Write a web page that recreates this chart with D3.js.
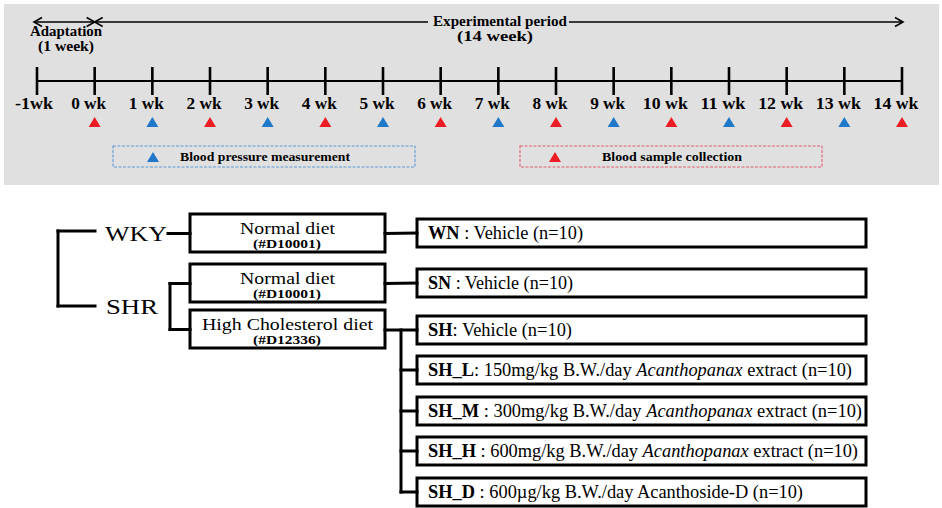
<!DOCTYPE html>
<html>
<head>
<meta charset="utf-8">
<script src="https://cdn.jsdelivr.net/npm/d3@7"></script>
<style>
  html, body { margin: 0; padding: 0; background: #ffffff; }
  svg { display: block; }
  text { font-family: "Liberation Serif", "Times New Roman", serif; fill: #000; }
</style>
</head>
<body>
<svg id="chart" width="942" height="508"></svg>
<script>
// ---------- data ----------
const weeks = [-1, 0, 1, 2, 3, 4, 5, 6, 7, 8, 9, 10, 11, 12, 13, 14];
const weekLabels = ["-1wk", "0 wk", "1 wk", "2 wk", "3 wk", "4 wk", "5 wk", "6 wk", "7 wk",
                    "8 wk", "9 wk", "10 wk", "11 wk", "12 wk", "13 wk", "14 wk"];
// event at each week: "blood" = blood sample collection, "bp" = blood pressure measurement
const weekEvents = ["none", "blood", "bp", "blood", "bp", "blood", "bp", "blood", "bp",
                    "blood", "bp", "blood", "bp", "blood", "bp", "blood"];
const eventNames = ["bp", "blood"];
const eventLabels = ["Blood pressure measurement", "Blood sample collection"];
const periodLabels = [["Adaptation", "(1 week)"], ["Experimental period", "(14 week)"]];
const periodSpans = [[-1, 0], [0, 14]];

const strains = ["WKY", "SHR"];
const diets = ["Normal diet", "Normal diet", "High Cholesterol diet"];
const dietCodes = ["(#D10001)", "(#D10001)", "(#D12336)"];
const dietStrain = ["WKY", "SHR", "SHR"];
const groupCodes = ["WN", "SN", "SH", "SH_L", "SH_M", "SH_H", "SH_D"];
const groupDiet = [0, 1, 2, 2, 2, 2, 2];
const groupText = [
  [[" : Vehicle (n=10)", "n"]],
  [[" : Vehicle (n=10)", "n"]],
  [[": Vehicle (n=10)", "n"]],
  [[": 150mg/kg B.W./day ", "n"], ["Acanthopanax", "i"], [" extract (n=10)", "n"]],
  [[" : 300mg/kg B.W./day ", "n"], ["Acanthopanax", "i"], [" extract (n=10)", "n"]],
  [[" : 600mg/kg B.W./day ", "n"], ["Acanthopanax", "i"], [" extract (n=10)", "n"]],
  [[" : 600\u00b5g/kg B.W./day Acanthoside-D (n=10)", "n"]]
];

// ---------- layout ----------
const svg = d3.select("#chart");
const colors = { blood: "#ec1c24", bp: "#1f78c8" };
const legendStroke = { bp: "#5a9ad6", blood: "#e2606e" };

// top panel
svg.append("rect").attr("x", 4).attr("y", 4).attr("width", 935).attr("height", 181)
  .attr("fill", "#e0e0e0");

const x = d3.scaleLinear().domain([-1, 14]).range([37, 902]);
const axisY = 81;

// main timeline line
svg.append("line").attr("x1", x(-1)).attr("x2", x(14)).attr("y1", axisY).attr("y2", axisY)
  .attr("stroke", "#000").attr("stroke-width", 2.2);

// ticks
svg.selectAll(".tick").data(weeks).join("line")
  .attr("x1", d => x(d)).attr("x2", d => x(d))
  .attr("y1", axisY - 14).attr("y2", axisY + 14)
  .attr("stroke", "#000").attr("stroke-width", 2.6);

// tick labels
svg.selectAll(".wl").data(weeks).join("text")
  .attr("x", d => x(d) - (d < 0 ? 3 : 6)).attr("y", 109)
  .attr("text-anchor", "middle")
  .attr("font-weight", "bold").attr("font-size", 16)
  .attr("textLength", (d, i) => weekLabels[i].length > 4 ? 45 : (d < 0 ? 38 : 35))
  .attr("lengthAdjust", "spacingAndGlyphs")
  .text((d, i) => weekLabels[i]);

// event triangles
const tri = (cx, cy) => `M${cx - 6},${cy + 5}L${cx},${cy - 5}L${cx + 6},${cy + 5}Z`;
svg.selectAll(".ev").data(weeks.filter((d, i) => weekEvents[i] !== "none")).join("path")
  .attr("d", d => tri(x(d), 122))
  .attr("fill", d => colors[weekEvents[weeks.indexOf(d)]]);

// period arrows
const arrowY = 22;
const head = (tx, dir) => `M${tx - dir * 8},${arrowY - 4.5}L${tx},${arrowY}L${tx - dir * 8},${arrowY + 4.5}`;
// adaptation arrow
svg.append("line").attr("x1", x(periodSpans[0][0]) - 3).attr("x2", x(periodSpans[0][1]))
  .attr("y1", arrowY).attr("y2", arrowY).attr("stroke", "#000").attr("stroke-width", 1.6);
svg.append("path").attr("d", head(x(periodSpans[0][0]) - 3, -1)).attr("fill", "none").attr("stroke", "#000").attr("stroke-width", 1.6);
svg.append("path").attr("d", head(x(periodSpans[0][1]), 1)).attr("fill", "none").attr("stroke", "#000").attr("stroke-width", 1.6);
// experimental arrow (with gap for label)
const gapL = 428, gapR = 569;
svg.append("line").attr("x1", x(periodSpans[1][0])).attr("x2", gapL).attr("y1", arrowY).attr("y2", arrowY)
  .attr("stroke", "#000").attr("stroke-width", 1.6);
svg.append("line").attr("x1", gapR).attr("x2", x(periodSpans[1][1]) + 1).attr("y1", arrowY).attr("y2", arrowY)
  .attr("stroke", "#000").attr("stroke-width", 1.6);
svg.append("path").attr("d", head(x(periodSpans[1][0]), -1)).attr("fill", "none").attr("stroke", "#000").attr("stroke-width", 1.6);
svg.append("path").attr("d", head(x(periodSpans[1][1]) + 1, 1)).attr("fill", "none").attr("stroke", "#000").attr("stroke-width", 1.6);

// period labels
const periodTextPos = [
  [{ cx: 66, y: 36, w: 72 }, { cx: 66, y: 51, w: 56 }],
  [{ cx: 500, y: 26, w: 134 }, { cx: 495, y: 41, w: 76 }]
];
periodLabels.forEach((lines, pi) => {
  lines.forEach((t, li) => {
    const p = periodTextPos[pi][li];
    svg.append("text").attr("x", p.cx).attr("y", p.y).attr("text-anchor", "middle")
      .attr("font-weight", "bold").attr("font-size", 14)
      .attr("textLength", p.w).attr("lengthAdjust", "spacingAndGlyphs").text(t);
  });
});

// legend
const legendPos = [{ x: 113, tx: 153, lx: 180, lw: 170 }, { x: 520, tx: 555, lx: 602, lw: 140 }];
eventNames.forEach((ev, i) => {
  const p = legendPos[i];
  svg.append("rect").attr("x", p.x).attr("y", 146).attr("width", 302).attr("height", 21)
    .attr("fill", "none").attr("stroke", legendStroke[ev]).attr("stroke-width", 1.1)
    .attr("stroke-dasharray", "3,1.5");
  svg.append("path").attr("d", tri(p.tx, 157)).attr("fill", colors[ev]);
  svg.append("text").attr("x", p.lx).attr("y", 161).attr("font-weight", "bold").attr("font-size", 13)
    .attr("textLength", p.lw).attr("lengthAdjust", "spacingAndGlyphs").text(eventLabels[i]);
});

// ---------- group diagram ----------
const SW = 3;
const ln = (x1, y1, x2, y2) => svg.append("line").attr("x1", x1).attr("y1", y1).attr("x2", x2).attr("y2", y2)
  .attr("stroke", "#000").attr("stroke-width", SW).attr("stroke-linecap", "square");

// strain labels
const strainPos = [{ x: 105, y: 241, w: 62, cy: 231 }, { x: 106, y: 314, w: 52, cy: 306 }];
strains.forEach((s, i) => {
  const p = strainPos[i];
  svg.append("text").attr("x", p.x).attr("y", p.y).attr("font-size", 21.5)
    .attr("textLength", p.w).attr("lengthAdjust", "spacingAndGlyphs").text(s);
});
// left bracket
ln(58, strainPos[0].cy, 58, strainPos[1].cy);
ln(58, strainPos[0].cy, 95, strainPos[0].cy);
ln(58, strainPos[1].cy, 95, strainPos[1].cy);

// diet boxes
const dietBox = { x: 190, w: 195, h: 38 };
const dietTop = [214, 264, 310];
const dietW = [95, 95, 171];
const dietMid = dietTop.map(t => t + dietBox.h / 2 + 0.5);
diets.forEach((d, i) => {
  svg.append("rect").attr("x", dietBox.x).attr("y", dietTop[i]).attr("width", dietBox.w).attr("height", dietBox.h)
    .attr("fill", "#fff").attr("stroke", "#000").attr("stroke-width", SW);
  svg.append("text").attr("x", dietBox.x + dietBox.w / 2).attr("y", dietTop[i] + 19.5).attr("text-anchor", "middle")
    .attr("font-size", 16.5).attr("textLength", dietW[i]).attr("lengthAdjust", "spacingAndGlyphs").text(d);
  svg.append("text").attr("x", dietBox.x + dietBox.w / 2 - 0.5).attr("y", dietTop[i] + 34).attr("text-anchor", "middle")
    .attr("font-size", 12).attr("font-weight", "bold").attr("textLength", 68).attr("lengthAdjust", "spacingAndGlyphs").text(dietCodes[i]);
});
// WKY -> diet
ln(168, dietMid[0], dietBox.x, dietMid[0]);
// SHR bracket
ln(170, dietMid[1], 170, dietMid[2]);
ln(170, dietMid[1], dietBox.x, dietMid[1]);
ln(170, dietMid[2], dietBox.x, dietMid[2]);

// group boxes
const gBox = { x: 417, w: 449, h: 28 };
const gTop = [219, 269, 316, 356, 397, 437, 478];
const gTextW = [155, 145, 144, 424, 434, 430, 375];
const gMid = gTop.map(t => t + gBox.h / 2);
groupCodes.forEach((g, i) => {
  svg.append("rect").attr("x", gBox.x).attr("y", gTop[i]).attr("width", gBox.w).attr("height", gBox.h)
    .attr("fill", "#fff").attr("stroke", "#000").attr("stroke-width", SW);
  const t = svg.append("text").attr("x", 428).attr("y", gTop[i] + 20).attr("font-size", 18)
    .attr("textLength", gTextW[i]).attr("lengthAdjust", "spacingAndGlyphs");
  t.append("tspan").attr("font-weight", "bold").text(g);
  groupText[i].forEach(([s, st]) => {
    const ts = t.append("tspan").text(s);
    if (st === "i") ts.attr("font-style", "italic");
  });
});
// diet -> group connectors
const rightDiet = dietBox.x + dietBox.w;
ln(rightDiet, dietMid[0], gBox.x, gMid[0]);
ln(rightDiet, dietMid[1], gBox.x, gMid[1]);
ln(rightDiet, gMid[2], gBox.x, gMid[2]);
const trunkX = 401;
ln(trunkX, gMid[2], trunkX, gMid[6]);
for (let i = 3; i < groupCodes.length; i++) ln(trunkX, gMid[i], gBox.x, gMid[i]);
</script>
</body>
</html>
